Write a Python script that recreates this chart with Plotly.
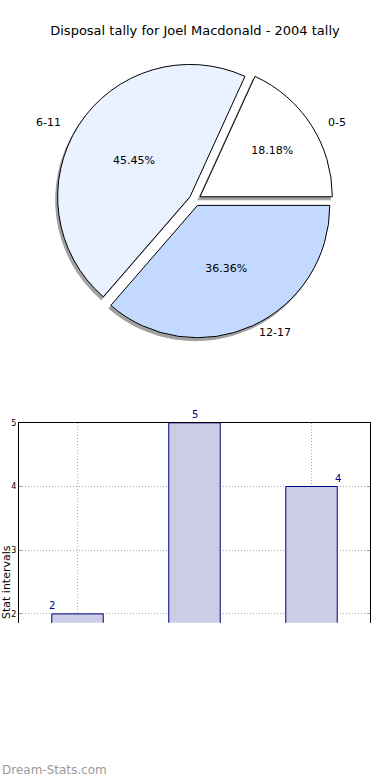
import plotly.graph_objects as go

title = "Disposal tally for Joel Macdonald - 2004 tally"
categories = ["0-5", "6-11", "12-17"]
values = [2, 5, 4]
pie_colors = ["#FFFFFF", "#EAF1FF", "#C4D9FF"]
y_ticks = [2, 3, 4, 5]
y_label = "Stat intervals"
watermark = "Dream-Stats.com"

W, H = 390, 780
FONT = "DejaVu Sans"

def px_x(x):
    return x / W

def px_y(y):
    return 1 - y / H

fig = go.Figure()

# pie geometry (pixels)
cx, cy, r = 195, 197, 139
pull = 0.045
# first slice starts at 3 o'clock and slices run counterclockwise
rotation = 90 - 360 * values[0] / sum(values)

# shadow pie
sdx, sdy = -2, 3
fig.add_trace(go.Pie(
    labels=categories, values=values, sort=False,
    direction="counterclockwise", rotation=rotation,
    pull=[pull] * len(values),
    marker=dict(colors=["#8a8a8a"] * len(values), line=dict(color="#8a8a8a", width=1)),
    textinfo="none", hoverinfo="skip", showlegend=False,
    domain=dict(x=[px_x(cx - r + sdx), px_x(cx + r + sdx)],
                y=[px_y(cy + r + sdy), px_y(cy - r + sdy)]),
    opacity=0.8,
))

fig.add_trace(go.Pie(
    labels=categories, values=values, sort=False,
    direction="counterclockwise", rotation=rotation,
    pull=[pull] * len(values),
    marker=dict(colors=pie_colors, line=dict(color="#000000", width=1)),
    texttemplate="%{percent:.2%}", textposition="inside",
    insidetextorientation="horizontal",
    textfont=dict(family=FONT, size=11, color="#000000"),
    showlegend=False,
    domain=dict(x=[px_x(cx - r), px_x(cx + r)],
                y=[px_y(cy + r), px_y(cy - r)]),
))

# bar chart
fig.add_trace(go.Bar(
    x=categories, y=values, width=0.44,
    marker=dict(color="rgb(204,204,230)", line=dict(color="#000080", width=1)),
    showlegend=False, xaxis="x", yaxis="y",
))

px_per_unit = 64
y_top_px, y_bot_px = 421, 622
y_max = 5
y_min = y_max - (y_bot_px - y_top_px) / px_per_unit

annotations = []
label_shift = [-26, 0, 26]
for c, v, s in zip(categories, values, label_shift):
    annotations.append(dict(x=c, y=v, xref="x", yref="y", text=str(v), showarrow=False,
                            yanchor="bottom", yshift=1, xshift=s,
                            font=dict(family=FONT, size=10, color="#000080")))

# pie category labels
pie_label_pos = [(337, 119), (48, 119), (275, 330)]
for c, (lx, ly) in zip(categories, pie_label_pos):
    annotations.append(dict(x=px_x(lx), y=px_y(ly), xref="paper", yref="paper", text=c,
                            showarrow=False, xanchor="center", yanchor="middle",
                            font=dict(family=FONT, size=11, color="#000000")))

annotations.append(dict(x=px_x(6), y=px_y(581), xref="paper", yref="paper", text=y_label,
                        textangle=-90, showarrow=False, xanchor="center", yanchor="middle",
                        font=dict(family=FONT, size=11, color="#000000")))
annotations.append(dict(x=0, y=px_y(770), xref="paper", yref="paper", text=watermark,
                        showarrow=False, xanchor="left", yanchor="middle",
                        font=dict(family=FONT, size=12, color="#999999")))

fig.update_layout(
    width=W, height=H,
    margin=dict(l=0, r=0, t=0, b=0),
    paper_bgcolor="white", plot_bgcolor="white",
    title=dict(text=title, x=0.5, xanchor="center", y=px_y(30), yanchor="middle",
               font=dict(family=FONT, size=13, color="#000000")),
    xaxis=dict(domain=[px_x(19), px_x(370)], anchor="y", side="top",
               showticklabels=False, ticks="", showline=True, linecolor="#000000", linewidth=1,
               showgrid=True, gridcolor="#aaaaaa", griddash="1px,2px", gridwidth=1,
               zeroline=False, fixedrange=True),
    yaxis=dict(domain=[px_y(y_bot_px), px_y(y_top_px)], anchor="x",
               range=[y_min, y_max], tickvals=y_ticks, ticktext=[str(t) for t in y_ticks],
               ticks="inside", ticklen=3, tickcolor="#999999",
               showline=True, mirror="ticks", linecolor="#000000", linewidth=1,
               showgrid=True, gridcolor="#aaaaaa", griddash="1px,2px", gridwidth=1,
               zeroline=False, tickfont=dict(family=FONT, size=8, color="#000000"),
               fixedrange=True),
    annotations=annotations,
)

fig.write_html("out.html", config={"displayModeBar": False},
               post_script="document.body.style.margin='0';")
